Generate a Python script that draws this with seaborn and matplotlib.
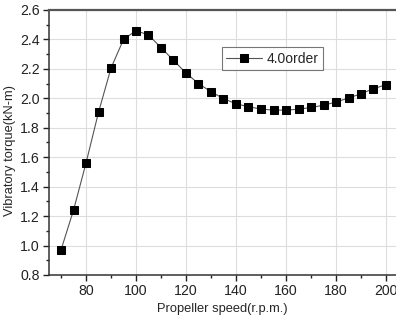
import numpy as np
import pandas as pd
import matplotlib
matplotlib.use("Agg")
import matplotlib.pyplot as plt
import seaborn as sns
from matplotlib.ticker import MultipleLocator

# propeller speed (r.p.m.) and vibratory torque (kN-m)
speed = [70, 75, 80, 85, 90, 95, 100, 105, 110, 115, 120, 125, 130, 135,
         140, 145, 150, 155, 160, 165, 170, 175, 180, 185, 190, 195, 200]
torque = [0.97, 1.24, 1.56, 1.905, 2.205, 2.40, 2.46, 2.43, 2.345, 2.258, 2.172, 2.10, 2.045, 1.998,
          1.963, 1.943, 1.927, 1.920, 1.920, 1.926, 1.938, 1.953, 1.975, 2.002, 2.031, 2.066, 2.092]
series_name = "4.0order"

sns.set_style("white")
plt.rcParams['font.family'] = ['Liberation Sans', 'DejaVu Sans']

df = pd.DataFrame({"speed": speed, "torque": torque, "series": series_name})

fig = plt.figure(figsize=(3.96, 3.21), dpi=100)
ax = fig.add_axes([49 / 396, 1 - 275 / 321, 349.5 / 396, 265 / 321])

sns.lineplot(data=df, x="speed", y="torque", hue="series", palette=["#555555"],
             marker="s", markersize=5.2, markerfacecolor="black", markeredgecolor="black",
             linewidth=0.8, ax=ax)

ax.set_xlim(65.2, 205)
ax.set_ylim(0.8, 2.6)
ax.xaxis.set_major_locator(MultipleLocator(20))
ax.xaxis.set_minor_locator(MultipleLocator(10))
ax.yaxis.set_major_locator(MultipleLocator(0.2))
ax.yaxis.set_minor_locator(MultipleLocator(0.1))
ax.yaxis.set_major_formatter(matplotlib.ticker.FormatStrFormatter('%.1f'))
ax.set_xticks([80, 100, 120, 140, 160, 180, 200])

ax.grid(True, which="major", color="#dddddd", linewidth=0.8)
ax.tick_params(which="major", direction="out", length=4, width=1, labelsize=10.2,
               colors="#222222", bottom=True, left=True, pad=2.5)
ax.tick_params(which="minor", direction="out", length=2, width=1,
               colors="#222222", bottom=True, left=True)
for side in ["left", "bottom", "top"]:
    ax.spines[side].set_color("#333333")
    ax.spines[side].set_linewidth(1.1)
ax.spines["top"].set_color("#555555")
ax.spines["top"].set_linewidth(1.6)
ax.spines["right"].set_visible(False)

ax.set_xlabel("Propeller speed(r.p.m.)", fontsize=9.3)
ax.set_ylabel("Vibratory torque(kN-m)", fontsize=9.3)
ax.xaxis.set_label_coords(0.497, -0.106)
ax.yaxis.set_label_coords(-0.094, 0.468)

leg = ax.legend(loc="upper left", bbox_to_anchor=(0.475, 0.885), fontsize=10,
                frameon=True, fancybox=False, handlelength=2.6, borderpad=0.3,
                handletextpad=0.3)
leg.get_frame().set_edgecolor("#555555")
leg.get_frame().set_linewidth(0.8)

fig.savefig("out.png", dpi=100)
